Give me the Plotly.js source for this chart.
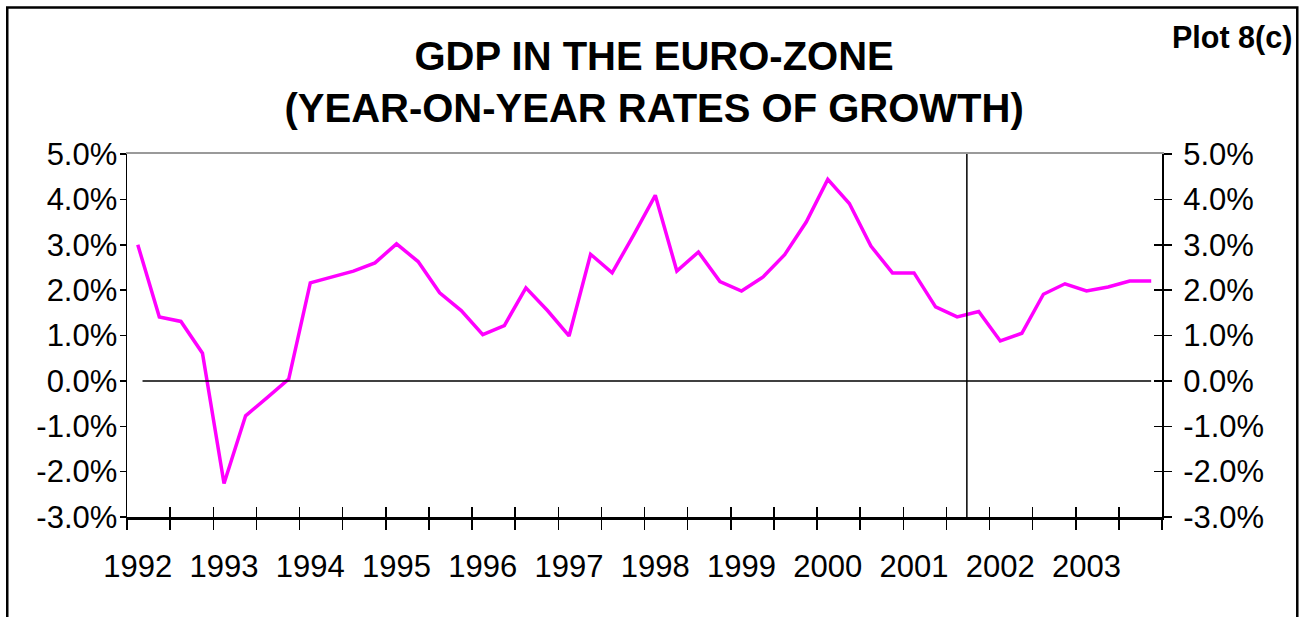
<!DOCTYPE html>
<html>
<head>
<meta charset="utf-8">
<script src="https://cdn.plot.ly/plotly-3.0.1.min.js"></script>
<style>
  html, body { margin: 0; padding: 0; background: #ffffff; }
  #chart { width: 1303px; height: 617px; }
</style>
</head>
<body>
<div id="chart"></div>
<script>
// ---- data ----
const quarters = [
  "1992 Q1","1992 Q2","1992 Q3","1992 Q4",
  "1993 Q1","1993 Q2","1993 Q3","1993 Q4",
  "1994 Q1","1994 Q2","1994 Q3","1994 Q4",
  "1995 Q1","1995 Q2","1995 Q3","1995 Q4",
  "1996 Q1","1996 Q2","1996 Q3","1996 Q4",
  "1997 Q1","1997 Q2","1997 Q3","1997 Q4",
  "1998 Q1","1998 Q2","1998 Q3","1998 Q4",
  "1999 Q1","1999 Q2","1999 Q3","1999 Q4",
  "2000 Q1","2000 Q2","2000 Q3","2000 Q4",
  "2001 Q1","2001 Q2","2001 Q3","2001 Q4",
  "2002 Q1","2002 Q2","2002 Q3","2002 Q4",
  "2003 Q1","2003 Q2","2003 Q3","2003 Q4"
];
const gdpGrowth = [
  3.00, 1.41, 1.31, 0.61,
  -2.26, -0.77, -0.37, 0.04,
  2.16, 2.29, 2.42, 2.60,
  3.02, 2.63, 1.94, 1.55,
  1.02, 1.22, 2.05, 1.55,
  0.99, 2.79, 2.38, 3.22,
  4.09, 2.42, 2.84, 2.19,
  1.98, 2.29, 2.78, 3.50,
  4.44, 3.91, 2.97, 2.38,
  2.38, 1.63, 1.41, 1.53,
  0.88, 1.05, 1.91, 2.14,
  1.98, 2.07, 2.20, 2.20
];
const yearLabels = ["1992","1993","1994","1995","1996","1997","1998","1999","2000","2001","2002","2003"];
const yTickValues = [-3, -2, -1, 0, 1, 2, 3, 4, 5];
const yTickLabels = ["-3.0%","-2.0%","-1.0%","0.0%","1.0%","2.0%","3.0%","4.0%","5.0%"];
const forecastStartQuarter = 38.45;   // vertical separator (between 2001 Q3 and Q4)

// ---- derived positions ----
const xIdx = quarters.map((q, i) => i);
const yearTickVals = yearLabels.map((y, i) => i * 4);           // label under Q1 of each year
const halfYearTicks = [];
for (let k = 0; k <= quarters.length / 2; k++) halfYearTicks.push(-0.5 + 2 * k);
const xRange = [-0.5, quarters.length - 0.5];
const yRange = [-3, 5];

const FONT = "Liberation Sans, Arial, Helvetica, sans-serif";
const tickFont = { family: FONT, size: 31, color: "#000000" };

// invisible helper traces so that the overlay axes (extra tick marks / labels) get drawn
function helper(xa, ya) {
  return {
    x: xIdx, y: gdpGrowth, type: "scatter", mode: "lines",
    line: { color: "rgba(0,0,0,0)", width: 0 }, hoverinfo: "skip",
    xaxis: xa, yaxis: ya, showlegend: false
  };
}

const traces = [
  helper("x2", "y"), helper("x3", "y"), helper("x4", "y"),
  helper("x", "y2"), helper("x", "y3"),
  {
    x: xIdx, y: gdpGrowth, text: quarters,
    type: "scatter", mode: "lines",
    line: { color: "#FF00FF", width: 3.5 },
    hovertemplate: "%{text}: %{y:.1f}%<extra></extra>",
    xaxis: "x", yaxis: "y"
  }
];

const layout = {
  width: 1303, height: 617,
  margin: { l: 127, r: 141, t: 154, b: 100, pad: 0 },
  paper_bgcolor: "#ffffff", plot_bgcolor: "#ffffff",
  showlegend: false,
  title: {
    text: "GDP IN THE EURO-ZONE<br>(YEAR-ON-YEAR RATES OF GROWTH)",
    font: { family: FONT, size: 40, color: "#000000", weight: 700 },
    xref: "container", x: 0.502, xanchor: "center",
    yref: "container", y: 0.886, yanchor: "top"
  },
  xaxis: {
    range: xRange, fixedrange: true,
    showgrid: false, zeroline: false,
    showline: true, linecolor: "#000000", linewidth: 2.5,
    tickmode: "array", tickvals: halfYearTicks,
    ticks: "outside", ticklen: 10, tickwidth: 1.5, tickcolor: "#000000",
    showticklabels: false
  },
  xaxis2: {
    overlaying: "x", anchor: "y", side: "bottom",
    range: xRange, fixedrange: true,
    showgrid: false, zeroline: false, showline: false,
    tickmode: "array", tickvals: halfYearTicks,
    ticks: "inside", ticklen: 10, tickwidth: 1.5, tickcolor: "#000000",
    showticklabels: false
  },
  xaxis3: {
    overlaying: "x", anchor: "y", side: "bottom",
    range: xRange, fixedrange: true,
    showgrid: false, zeroline: false, showline: false,
    tickmode: "array", tickvals: yearTickVals, ticktext: yearLabels,
    ticks: "", tickfont: tickFont, ticklabelstandoff: 28
  },
  xaxis4: {
    overlaying: "x", anchor: "y", side: "top",
    range: xRange, fixedrange: true,
    showgrid: false, zeroline: false,
    showline: true, linecolor: "#9a9a9a", linewidth: 2,
    ticks: "", showticklabels: false
  },
  yaxis: {
    range: yRange, fixedrange: true,
    showgrid: false, zeroline: false,
    showline: true, linecolor: "#000000", linewidth: 1.5,
    tickmode: "array", tickvals: yTickValues, ticktext: yTickLabels,
    ticks: "outside", ticklen: 6, tickwidth: 1.5, tickcolor: "#000000",
    tickfont: tickFont, ticklabelstandoff: -4
  },
  yaxis2: {
    overlaying: "y", anchor: "x", side: "right",
    range: yRange, fixedrange: true,
    showgrid: false, zeroline: false,
    showline: true, linecolor: "#000000", linewidth: 2,
    tickmode: "array", tickvals: yTickValues, ticktext: yTickLabels,
    ticks: "outside", ticklen: 8, tickwidth: 1.5, tickcolor: "#000000",
    tickfont: tickFont, ticklabelstandoff: 5
  },
  yaxis3: {
    overlaying: "y", anchor: "x", side: "right",
    range: yRange, fixedrange: true,
    showgrid: false, zeroline: false, showline: false,
    tickmode: "array", tickvals: yTickValues,
    ticks: "inside", ticklen: 8, tickwidth: 1.5, tickcolor: "#000000",
    showticklabels: false
  },
  shapes: [
    { // zero reference line
      type: "line", xref: "x domain", yref: "y",
      x0: 0.015, x1: 0.9895, y0: 0, y1: 0,
      line: { color: "#000000", width: 1.5 }, layer: "above"
    },
    { // forecast separator
      type: "line", xref: "x", yref: "y",
      x0: forecastStartQuarter, x1: forecastStartQuarter, y0: yRange[0], y1: yRange[1],
      line: { color: "#000000", width: 1.5 }, layer: "above"
    },
    { // outer frame
      type: "rect", xref: "paper", yref: "paper",
      x0: -0.1157, x1: 1.1307, y0: -0.4, y1: 1.4037,
      line: { color: "#000000", width: 2.5 }, fillcolor: "rgba(0,0,0,0)", layer: "above"
    }
  ],
  annotations: [
    {
      text: "Plot 8(c)", showarrow: false,
      xref: "paper", yref: "paper", x: 1.1275, xanchor: "right",
      y: 1.322, yanchor: "middle",
      font: { family: FONT, size: 30.5, color: "#000000", weight: 700 }
    }
  ]
};

Plotly.newPlot("chart", traces, layout, { displayModeBar: false, staticPlot: true });
</script>
</body>
</html>
